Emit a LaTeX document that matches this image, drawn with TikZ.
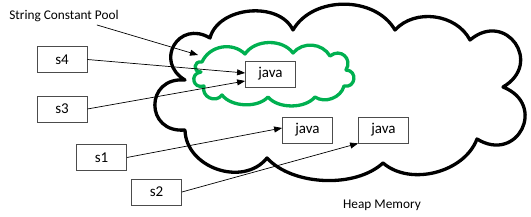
\documentclass[tikz,border=0pt]{standalone}
\usepackage{fontspec}
\setmainfont{Carlito}
\usepackage{tikz}
\usetikzlibrary{arrows.meta}
\definecolor{poolgreen}{RGB}{0,176,80}

\begin{document}
\begin{tikzpicture}[x=1pt,y=1pt,
    strbox/.style={draw=black!70, line width=0.8pt, fill=white, minimum width=50pt,
      minimum height=26pt, inner sep=0pt, font=\fontsize{15}{17}\selectfont},
    label/.style={inner sep=0pt, font=\fontsize{13.3}{16}\selectfont},
    ref/.style={-{Triangle[length=8pt,width=6pt]}, line width=0.7pt},
    heap/.style={line width=3.3pt, line join=round},
    pool/.style={line width=3.3pt, draw=poolgreen, line join=round}]
  \useasboundingbox (0,0) rectangle (531,217);

  % heap memory cloud
  \draw[heap] (185,137) to[bend left=90, looseness=1.9] (210,179)
    to[bend left=70, looseness=1] (293,187)
    to[bend left=60, looseness=1] (395,187)
    to[bend left=55, looseness=1] (470,177)
    to[bend left=95, looseness=2.1] (503,130)
    to[bend left=95, looseness=2.1] (477,78)
    to[bend left=55, looseness=0.95] (383,54)
    to[bend left=45, looseness=0.83] (267,59)
    to[bend left=70, looseness=1.12] (185,87)
    to[bend left=95, looseness=2.07] cycle;

  % string constant pool cloud
  \draw[pool] (202,155) to[bend left=55, looseness=1.05] (245,163)
    to[bend left=55, looseness=0.95] (293,164)
    to[bend left=55, looseness=1.05] (330,161)
    to[bend left=80, looseness=1.6] (346,147)
    to[bend left=95, looseness=1.9] (344,131)
    to[bend left=55, looseness=1] (315,120)
    to[bend left=50, looseness=0.85] (268,120)
    to[bend left=50, looseness=0.85] (222,122)
    to[bend left=80, looseness=1.4] (204,131)
    to[bend left=95, looseness=2.1] (201,145)
    to[bend left=95, looseness=2.2] cycle;

  \node[label] (poolstr) at (64,201) {String Constant Pool};
  \node[label] (heapstr) at (382,12) {Heap Memory};

  \node[strbox] (s4) at (62,157.5) {s4};
  \node[strbox] (s3) at (62,108) {s3};
  \node[strbox] (s1) at (101.5,59.5) {s1};
  \node[strbox] (s2) at (156.5,25) {s2};
  \node[strbox] (java1) at (270.5,143) {java};
  \node[strbox] (java2) at (307.5,87) {java};
  \node[strbox] (java3) at (383.5,87) {java};

  \coordinate (pooltip) at (198,162);
  \draw[ref] ([xshift=-22pt,yshift=-3pt]poolstr.south east) -- (pooltip);
  \draw[ref] (s4.east) -- ([yshift=1pt]java1.west);
  \draw[ref] (s3.east) -- ([yshift=-7pt]java1.west);
  \draw[ref] (s1.east) -- ([yshift=2pt]java2.west);
  \draw[ref] (s2.east) -- (java3.south west);
\end{tikzpicture}
\end{document}
